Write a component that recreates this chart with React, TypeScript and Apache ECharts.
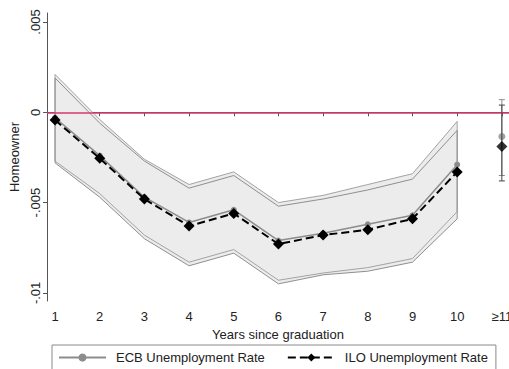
import React, { useEffect, useRef } from "react";
import * as echarts from "echarts";

const years = [1, 2, 3, 4, 5, 6, 7, 8, 9, 10];
const xTickValues = [1, 2, 3, 4, 5, 6, 7, 8, 9, 10, 11];
const xTickLabels = ["1", "2", "3", "4", "5", "6", "7", "8", "9", "10", "≥11"];
const yTickValues = [-0.01, -0.005, 0, 0.005];
const yTickLabels = ["-.01", "-.005", "0", ".005"];

const ecbRate = [-0.0003, -0.0024, -0.0047, -0.0061, -0.0054, -0.0071, -0.0067, -0.0062, -0.0057, -0.0029];
const iloRate = [-0.00043, -0.00255, -0.0048, -0.0063, -0.0056, -0.0073, -0.0068, -0.0065, -0.0059, -0.0033];
const ecbUpper = [0.0021, -0.0004, -0.0026, -0.004, -0.0033, -0.005, -0.0046, -0.004, -0.0034, -0.0005];
const ecbLower = [-0.0027, -0.0045, -0.0068, -0.0083, -0.0076, -0.0093, -0.0089, -0.0086, -0.0081, -0.0055];
const iloUpper = [0.0019, -0.0006, -0.0027, -0.0042, -0.0035, -0.0052, -0.0048, -0.0043, -0.0037, -0.001];
const iloLower = [-0.0028, -0.0047, -0.007, -0.0085, -0.0078, -0.0095, -0.009, -0.0088, -0.0083, -0.0059];

const lastX = 11;
const ecbLast = [-0.00134, -0.0035, 0.0007];
const iloLast = [-0.0019, -0.0038, 0.0004];

const FONT = "'Liberation Sans', Arial, sans-serif";
const ECB = "ECB Unemployment Rate";
const ILO = "ILO Unemployment Rate";

export default function App() {
  const ref = useRef<HTMLDivElement>(null);
  useEffect(() => {
    if (!ref.current) return;
    const chart = echarts.init(ref.current, null, { renderer: "svg" });

    const bandRender = (params: any, api: any) => {
      const poly = (up: number[], lo: number[]) =>
        years
          .map((x, i) => api.coord([x, up[i]]))
          .concat(years.slice().reverse().map((x, j) => api.coord([x, lo[years.length - 1 - j]])));
      const a = poly(ecbUpper, ecbLower);
      const b = poly(iloUpper, iloLower);
      return {
        type: "group",
        children: [
          { type: "polygon", shape: { points: a }, style: { fill: "#ececec", stroke: "none" } },
          { type: "polygon", shape: { points: b }, style: { fill: "#ececec", stroke: "none" } },
          { type: "polygon", shape: { points: a }, style: { fill: "none", stroke: "#a3a3a3", lineWidth: 1 } },
          { type: "polygon", shape: { points: b }, style: { fill: "none", stroke: "#8f8f8f", lineWidth: 1 } },
        ],
      };
    };

    const errRender = (color: string) => (params: any, api: any) => {
      const x = api.value(0);
      const lo = api.coord([x, api.value(2)]);
      const hi = api.coord([x, api.value(3)]);
      const w = 3;
      const st = { stroke: color, lineWidth: 1 };
      return {
        type: "group",
        children: [
          { type: "line", shape: { x1: lo[0], y1: lo[1], x2: hi[0], y2: hi[1] }, style: st },
          { type: "line", shape: { x1: lo[0] - w, y1: lo[1], x2: lo[0] + w, y2: lo[1] }, style: st },
          { type: "line", shape: { x1: hi[0] - w, y1: hi[1], x2: hi[0] + w, y2: hi[1] }, style: st },
        ],
      };
    };

    chart.setOption({
      animation: false,
      textStyle: { fontFamily: FONT },
      grid: { left: 47, right: 0, top: 13, bottom: 68, outerBoundsMode: "none", containLabel: false },
      legend: {
        data: [ECB, ILO],
        left: 52,
        top: 345,
        itemWidth: 47,
        itemHeight: 10,
        itemGap: 22,
        padding: [6, 8, 6, 6],
        borderColor: "#8a8a8a",
        borderWidth: 1,
        textStyle: { fontSize: 13, color: "#222", fontFamily: FONT, padding: [0, 0, 0, 5] },
      },
      xAxis: {
        type: "value",
        min: 0.82,
        max: 11.16,
        name: "Years since graduation",
        nameLocation: "middle",
        nameGap: 23,
        nameTextStyle: { fontSize: 13, color: "#222", fontFamily: FONT },
        axisLine: { show: true, lineStyle: { color: "#555" } },
        axisTick: { show: true, length: 4, customValues: xTickValues, lineStyle: { color: "#555" } },
        axisLabel: {
          customValues: xTickValues,
          fontSize: 13,
          color: "#222",
          margin: 9,
          hideOverlap: false,
          formatter: (v: number) => xTickLabels[xTickValues.indexOf(Math.round(v))] ?? "",
        },
        splitLine: { show: false },
      },
      yAxis: {
        type: "value",
        min: -0.01045,
        max: 0.0055,
        name: "Homeowner",
        nameLocation: "middle",
        nameGap: 23,
        nameTextStyle: { fontSize: 13, color: "#222", fontFamily: FONT },
        axisLine: { show: true, lineStyle: { color: "#555" } },
        axisTick: { show: true, length: 4, customValues: yTickValues, lineStyle: { color: "#555" } },
        axisLabel: {
          customValues: yTickValues,
          rotate: 90,
          fontSize: 13,
          color: "#222",
          margin: 5,
          formatter: (v: number) => {
            const i = yTickValues.findIndex((t) => Math.abs(t - v) < 1e-9);
            return i >= 0 ? yTickLabels[i] : "";
          },
        },
        splitLine: { show: false },
      },
      series: [
        {
          type: "custom",
          silent: true,
          data: [[1, 0]],
          renderItem: bandRender,
          z: 1,
        },
        {
          name: ECB,
          type: "line",
          data: years.map((x, i) => [x, ecbRate[i]]),
          symbol: "circle",
          symbolSize: 6,
          itemStyle: { color: "#8c8c8c" },
          lineStyle: { color: "#8c8c8c", width: 1.5 },
          z: 3,
        },
        {
          name: ECB,
          type: "custom",
          data: [[lastX, ecbLast[0], ecbLast[1], ecbLast[2]]],
          renderItem: errRender("#8c8c8c"),
          z: 3,
        },
        {
          name: ECB,
          type: "scatter",
          data: [[lastX, ecbLast[0]]],
          symbol: "circle",
          symbolSize: 7,
          itemStyle: { color: "#8c8c8c" },
          z: 4,
        },
        {
          name: ILO,
          type: "line",
          data: years.map((x, i) => [x, iloRate[i]]),
          symbol: "diamond",
          symbolSize: 11,
          itemStyle: { color: "#000" },
          lineStyle: { color: "#000", width: 2, type: [8, 4] },
          z: 5,
          markLine: {
            silent: true,
            symbol: "none",
            label: { show: false },
            lineStyle: { color: "#d9376e", width: 1.5, type: "solid" },
            data: [{ yAxis: 0 }],
          },
        },
        {
          name: ILO,
          type: "custom",
          data: [[lastX, iloLast[0], iloLast[1], iloLast[2]]],
          renderItem: errRender("#444"),
          z: 5,
        },
        {
          name: ILO,
          type: "scatter",
          data: [[lastX, iloLast[0]]],
          symbol: "diamond",
          symbolSize: 11,
          itemStyle: { color: "#000" },
          z: 6,
        },
      ],
    });
    return () => chart.dispose();
  }, []);

  return (
    <div
      ref={ref}
      style={{ position: "fixed", left: 0, top: 0, width: 509, height: 369, background: "#fff" }}
    />
  );
}
